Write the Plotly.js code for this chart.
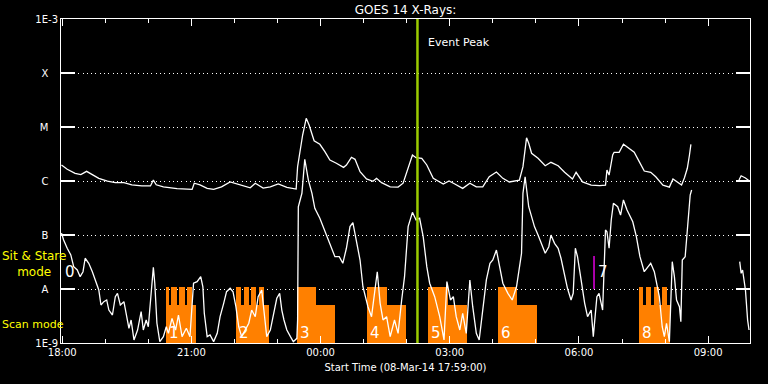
<!DOCTYPE html>
<html>
<head>
<meta charset="utf-8">
<script src="https://cdn.plot.ly/plotly-3.0.1.min.js"></script>
<style>html,body{margin:0;padding:0;background:#000;}#chart{width:768px;height:384px;}</style>
</head>
<body>
<div id="chart"></div>
<script>
// ---- Data (GOES 14 X-ray flux, W/m^2) ----
const upTime = [
 '17:59','18:07','18:18','18:26','18:34','18:42','18:51','19:03','19:14','19:26',
 '19:37','19:51','20:03','20:07','20:11','20:21','20:40','21:01','21:04','21:12',
 '21:22','21:31','21:42','21:54','22:08','22:22','22:29','22:40','22:50','23:01',
 '23:13','23:26','23:28','23:31','23:35','23:40','23:44','23:51','23:59','00:06',
 '00:13','00:22','00:32','00:36','00:43','00:48','00:55','01:04','01:13','01:18',
 '01:25','01:37','01:48','01:55','02:01','02:08','02:13','02:21','02:28','02:37',
 '02:51','02:59','03:07','03:18','03:28','03:37','03:46','03:55','04:05','04:14',
 '04:23','04:37','04:42','04:47','04:50','04:54','05:03','05:13','05:21','05:31',
 '05:40','05:51','05:56','06:05','06:17','06:29','06:37','06:39','06:42','06:47',
 '06:49','06:56','07:02','07:10','07:17','07:24','07:31','07:40','07:47','07:57',
 '08:06','08:11','08:17','08:23','08:27','08:31','08:34','08:36','09:00','09:43',
 '09:46','09:52','09:57'
];
const upFlux = [
 1.98e-6,1.65e-6,1.39e-6,1.31e-6,1.51e-6,1.33e-6,1.12e-6,0.99e-6,0.93e-6,0.93e-6,
 0.85e-6,0.81e-6,0.81e-6,1.04e-6,0.85e-6,0.78e-6,0.72e-6,0.70e-6,0.91e-6,0.85e-6,
 0.73e-6,0.70e-6,0.78e-6,0.96e-6,0.85e-6,0.75e-6,0.91e-6,0.74e-6,0.78e-6,0.88e-6,
 0.76e-6,0.71e-6,1.84e-6,3.26e-6,7.11e-6,1.45e-5,1.09e-5,5.57e-6,4.78e-6,3.49e-6,
 2.45e-6,2.13e-6,1.79e-6,1.98e-6,2.75e-6,2.52e-6,1.49e-6,1.09e-6,0.99e-6,1.12e-6,
 0.93e-6,0.78e-6,0.77e-6,0.91e-6,1.60e-6,3.03e-6,2.70e-6,2.63e-6,1.98e-6,1.12e-6,
 0.88e-6,1.00e-6,0.88e-6,0.73e-6,0.91e-6,0.78e-6,0.78e-6,1.20e-6,1.47e-6,1.12e-6,
 0.96e-6,1.04e-6,1.84e-6,6.30e-6,4.99e-6,3.26e-6,2.63e-6,1.92e-6,2.22e-6,1.92e-6,
 1.45e-6,1.09e-6,1.45e-6,0.96e-6,0.84e-6,0.82e-6,0.84e-6,1.60e-6,1.29e-6,3.03e-6,
 3.40e-6,3.40e-6,4.78e-6,4.03e-6,3.40e-6,2.28e-6,1.53e-6,1.45e-6,1.20e-6,0.84e-6,
 0.77e-6,1.09e-6,0.96e-6,0.84e-6,1.15e-6,1.72e-6,3.03e-6,4.78e-6,null,1.04e-6,
 1.25e-6,1.14e-6,1.01e-6
];
const lowTime = [
 '17:59','18:02','18:07','18:12','18:16','18:21','18:25','18:29','18:32','18:37',
 '18:42','18:46','18:51','18:54','18:58','19:02','19:05','19:10','19:14','19:17',
 '19:21','19:26','19:29','19:33','19:36','19:40','19:45','19:50','19:53','19:57',
 '20:00','20:04','20:07','20:09','20:12','20:16','20:21','20:25','20:28','20:33',
 '20:38','20:42','20:47','20:53','20:58','21:03','21:08','21:13','21:16','21:18',
 '21:22','21:26','21:31','21:36','21:40','21:45','21:49','21:54','21:58','22:02',
 '22:06','22:10','22:15','22:20','22:24','22:29','22:33','22:38','22:41','22:45',
 '22:50','22:54','22:59','23:03','23:06','23:09','23:13','23:18','23:22','23:27',
 '23:28','23:29','23:34','23:38','23:43','23:48','23:52','23:59','00:06','00:13',
 '00:20','00:26','00:31','00:36','00:41','00:45','00:49','00:55','00:59','01:06',
 '01:11','01:16','01:19','01:23','01:27','01:32','01:37','01:43','01:48','01:53',
 '01:57','02:02','02:08','02:13','02:18','02:23','02:28','02:32','02:39','02:46',
 '02:52','02:56','03:01','03:05','03:09','03:14','03:18','03:23','03:28','03:32',
 '03:37','03:41','03:45','03:51','03:56','04:00','04:05','04:10','04:14','04:21',
 '04:27','04:33','04:36','04:40','04:42','04:45','04:50','04:54','04:58','05:03',
 '05:07','05:13','05:18','05:21','05:26','05:31','05:35','05:40','05:44','05:49',
 '05:52','05:55','05:58','06:03','06:08','06:12','06:17','06:20','06:25','06:28',
 '06:33','06:37','06:39','06:42','06:45','06:48','06:54','06:58','07:02','07:07',
 '07:15','07:20','07:25','07:31','07:36','07:40','07:45','07:48','07:52','07:56',
 '07:59','08:02','08:06','08:10','08:13','08:16','08:20','08:22','08:24','08:28',
 '08:31','08:35','08:37','09:00','09:44','09:46','09:48','09:52','09:55','09:57'
];
const lowFlux = [
 1.09e-7,8.07e-8,5.68e-8,4.27e-8,2.59e-8,2.25e-8,1.69e-8,2.09e-8,3.71e-8,2.99e-8,
 2.09e-8,1.47e-8,9.58e-9,5.06e-9,5.82e-9,6.26e-9,4.08e-9,3.30e-9,7.20e-9,8.32e-9,
 5.06e-9,5.82e-9,3.30e-9,1.87e-9,2.67e-9,1.14e-9,1.74e-9,3.80e-9,1.74e-9,2.67e-9,
 2.00e-9,9.58e-9,2.52e-8,1.28e-8,2.32e-9,1.06e-9,1.31e-9,2.00e-9,1.51e-9,2.86e-9,
 1.74e-9,3.30e-9,1.31e-9,1.87e-9,1.31e-9,1.28e-8,1.37e-8,1.69e-8,1.10e-8,3.55e-9,
 1.31e-9,1.41e-9,1.06e-9,1.51e-9,3.07e-9,5.43e-9,8.91e-9,1.03e-8,8.91e-9,4.70e-9,
 2.00e-9,1.31e-9,1.74e-9,2.32e-9,4.08e-9,3.07e-9,7.20e-9,9.58e-9,4.08e-9,1.31e-9,
 1.74e-9,3.07e-9,6.73e-9,8.32e-9,4.08e-9,2.67e-9,1.74e-9,1.31e-9,1.06e-9,1.22e-9,
 2.67e-9,3.34e-7,5.92e-7,2.52e-6,1.04e-6,5.92e-7,3.12e-7,2.04e-7,1.15e-7,6.53e-8,
 3.96e-8,3.96e-8,2.99e-8,5.68e-8,1.43e-7,1.69e-7,9.31e-8,3.44e-8,1.10e-8,4.70e-9,
 3.07e-9,1.10e-8,2.09e-8,5.43e-9,2.67e-9,3.07e-9,1.31e-9,2.67e-9,1.51e-9,6.26e-9,
 1.69e-8,1.43e-7,2.63e-7,1.90e-7,2.04e-7,9.31e-8,2.59e-8,1.28e-8,7.20e-9,3.07e-9,
 1.14e-9,1.37e-8,6.26e-9,7.20e-9,3.07e-9,1.74e-9,3.55e-9,1.51e-9,1.47e-8,4.70e-9,
 1.51e-9,1.14e-9,3.55e-9,1.47e-8,2.99e-8,3.44e-8,5.27e-8,2.59e-8,1.28e-8,8.32e-9,
 6.26e-9,1.10e-8,1.95e-8,4.58e-8,5.92e-7,1.19e-6,3.34e-7,2.18e-7,1.43e-7,1.00e-7,
 7.52e-8,4.58e-8,6.07e-8,1.00e-7,7.01e-8,5.68e-8,3.71e-8,1.95e-8,1.03e-8,6.26e-9,
 8.32e-9,5.68e-8,3.96e-8,1.47e-8,5.43e-9,3.07e-9,4.08e-9,1.31e-9,7.20e-9,8.32e-9,
 4.08e-9,1.24e-7,1.15e-7,5.68e-8,1.90e-7,3.86e-7,3.34e-7,2.34e-7,4.45e-7,2.90e-7,
 1.76e-7,9.31e-8,3.96e-8,2.09e-8,2.59e-8,2.99e-8,2.09e-8,1.28e-8,7.20e-9,2.00e-9,
 1.31e-9,2.32e-9,1.06e-9,3.21e-8,1.69e-8,6.26e-9,4.70e-9,2.48e-9,3.44e-8,3.96e-8,
 1.08e-7,5.50e-7,6.81e-7,null,3.21e-8,1.95e-8,2.25e-8,9.58e-9,2.67e-9,1.74e-9
];
// Observation segments: start, end, mode
const segStart = ['20:24','20:29','20:32','20:40','20:42:30','20:51','20:54','21:01',
  '22:02:30','22:09','22:13','22:20','22:23','22:30','22:34:30','22:41:30',
  '23:27','23:54','01:05','01:32','02:30','02:57','04:07','04:34',
  '07:23','07:29','07:34','07:40','07:44:30','07:51:30','07:55:30','08:02'];
const segEnd = ['20:29','20:32','20:40','20:42:30','20:51','20:54','21:01','21:07',
  '22:09','22:13','22:20','22:23','22:30','22:34:30','22:41:30','22:47:30',
  '23:54','00:20','01:32','01:59','02:57','03:23:30','04:34','05:01',
  '07:29','07:34','07:40','07:44:30','07:51:30','07:55:30','08:02','08:06:30'];
const segMode = ['stare','scan','stare','scan','stare','scan','stare','scan',
  'stare','scan','stare','scan','stare','scan','stare','scan',
  'stare','scan','stare','scan','stare','scan','stare','scan',
  'stare','scan','stare','scan','stare','scan','stare','scan'];
const obsNum = ['0','1','2','3','4','5','6','7','8'];
const obsLabelTime = ['17:59','20:24','22:02:30','23:27','01:05','02:30','04:07','06:21','07:23'];
const obs7Time = '06:21';
const obs7Flux = [1e-8, 4.1e-8];
const eventPeak = '02:15';
const yTickVals = [1e-9,1e-8,1e-7,1e-6,1e-5,1e-4,1e-3];
const yTickText = ['1E-9','A\u00a0\u00a0\u00a0','B\u00a0\u00a0\u00a0','C\u00a0\u00a0\u00a0','M\u00a0\u00a0\u00a0','X\u00a0\u00a0\u00a0','1E-3'];

// ---- helpers ----
function t(hm){
  const p = hm.split(':').map(Number);
  const d = p[0] >= 12 ? 8 : 9;
  return Date.UTC(2014, 2, d, p[0], p[1], p[2] || 0);
}
const levels = {stare: 1e-8, scan: 4.1e-9};
const x0 = Date.UTC(2014,2,8,17,58,20);
const x1 = x0 + 16*3600000;

const barX = [], barW = [], barY = [];
for (let i = 0; i < segStart.length; i++) {
  const s = t(segStart[i]), e = t(segEnd[i]);
  barX.push((s+e)/2); barW.push(e-s); barY.push(levels[segMode[i]]);
}

const traces = [
  {type:'bar', x:barX, y:barY, width:barW, base:1e-9,
   marker:{color:'#ff8000', line:{width:0}}, hoverinfo:'skip', showlegend:false},
  {type:'scatter', mode:'lines', x:lowTime.map(t), y:lowFlux, connectgaps:false,
   line:{color:'#ffffff', width:1.3}, showlegend:false},
  {type:'scatter', mode:'lines', x:upTime.map(t), y:upFlux, connectgaps:false,
   line:{color:'#ffffff', width:1.3}, showlegend:false},
  {type:'scatter', mode:'lines', x:[t(obs7Time), t(obs7Time)], y:obs7Flux,
   line:{color:'#e000e0', width:1.5}, showlegend:false}
];

const annotations = [];
obsNum.forEach((n, i) => {
  const raised = (n === '0' || n === '7');
  annotations.push({xref:'x', yref:'y', x:t(obsLabelTime[i]), y: raised ? -7.685 : -8.815,
    text:n, showarrow:false, xanchor:'left', yanchor:'middle', xshift: raised ? 2 : 1,
    font:{color:'#ffffff', size:15, family:'DejaVu Sans'}});
});
annotations.push({xref:'x', yref:'paper', x:t(eventPeak), y:0.926, text:'Event Peak',
  showarrow:false, xanchor:'left', yanchor:'middle', xshift:9,
  font:{color:'#ffffff', size:11, family:'DejaVu Sans'}});
annotations.push({xref:'paper', yref:'paper', x:-0.0392, y:0.244, text:'Sit & Stare<br>mode',
  showarrow:false, xanchor:'center', yanchor:'middle', align:'center',
  font:{color:'#ffff00', size:12, family:'DejaVu Sans'}});
annotations.push({xref:'paper', yref:'paper', x:-0.088, y:0.0586, text:'Scan mode',
  showarrow:false, xanchor:'left', yanchor:'middle',
  font:{color:'#ffff00', size:11, family:'DejaVu Sans'}});

const layout = {
  width:768, height:384,
  paper_bgcolor:'#000000', plot_bgcolor:'#000000',
  font:{family:'DejaVu Sans', color:'#ffffff', size:10},
  margin:{l:61, r:18, t:19, b:41},
  showlegend:false,
  title:{text:'GOES 14 X-Rays:', font:{size:12, color:'#ffffff'}, x:0.5, xref:'paper',
         y:1-10/384, yref:'container', yanchor:'middle'},
  xaxis:{type:'date', range:[x0, x1], showline:true, linecolor:'#ffffff', linewidth:1,
    mirror:'ticks', ticks:'inside', ticklen:7, tickcolor:'#ffffff', tickwidth:1,
    tick0:t('18:00'), dtick:3*3600000, tickformat:'%H:%M', showgrid:false, zeroline:false,
    tickfont:{size:10, color:'#ffffff'},
    minor:{dtick:3600000, tick0:t('18:00'), ticks:'inside', ticklen:4, tickcolor:'#ffffff', showgrid:false},
    title:{text:'Start Time (08-Mar-14 17:59:00)', font:{size:10, color:'#ffffff'}, standoff:6}},
  yaxis:{type:'log', range:[-9,-3], showline:true, linecolor:'#ffffff', linewidth:1,
    mirror:'ticks', ticks:'inside', ticklen:14, tickcolor:'#ffffff', tickwidth:1.5,
    tickmode:'array', tickvals:yTickVals, ticktext:yTickText,
    showgrid:true, gridcolor:'#ffffff', gridwidth:1, griddash:'1px,3.3px', zeroline:false,
    tickfont:{size:10, color:'#ffffff'}},
  shapes:[{type:'line', xref:'x', yref:'paper', x0:t(eventPeak), x1:t(eventPeak), y0:0, y1:1,
    line:{color:'#9ccc00', width:2.5}, layer:'above'}],
  annotations:annotations,
  bargap:0
};
Plotly.newPlot('chart', traces, layout, {displayModeBar:false, staticPlot:true});
</script>
</body>
</html>
